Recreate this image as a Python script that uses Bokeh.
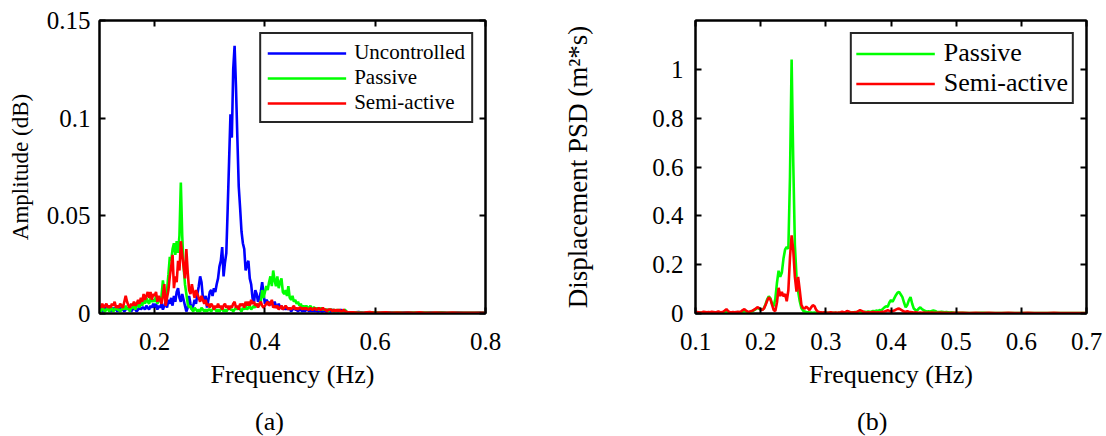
import numpy as np
from bokeh.plotting import figure
from bokeh.layouts import row, column
from bokeh.models import (FixedTicker, LinearAxis, Legend, LegendItem, Range1d, Div,
                          CustomLabelingPolicy)
from bokeh.embed import file_html
from bokeh.resources import INLINE

SERIF = "Liberation Serif"
BLUE, GREEN, RED = "#0000FF", "#00FF00", "#FF0000"

# ---------------------------------------------------------------------------
# Panel (a): amplitude spectra, dense samples 0.10-0.55 Hz (step 0.0025 Hz),
# followed by a sparse tail 0.56-0.80 Hz (step 0.01 Hz)
# ---------------------------------------------------------------------------
A_DENSE_START, A_DENSE_STEP = 0.10, 0.0025
A_TAIL_START, A_TAIL_STEP = 0.56, 0.01

a_uncontrolled = [
    0.002, 0.003, 0.001, 0.002,  0.003, 0.002, 0.004, 0.002,  0.001, 0.003, 0.002, 0.003,
    0.002, 0.001, 0.003, 0.002,  0.003, 0.002, 0.001, 0.002,  0.003, 0.002, 0.003, 0.001,
    0.002, 0.003, 0.002, 0.001,  0.002, 0.004, 0.002, 0.003,  0.003, 0.002, 0.004, 0.003,
    0.002, 0.004, 0.003, 0.005,  0.003, 0.005, 0.002, 0.004,  0.003, 0.005, 0.002, 0.004,
    0.006, 0.003, 0.007, 0.005,  0.008, 0.004, 0.009, 0.006,  0.011, 0.013, 0.008, 0.006,
    0.010, 0.007, 0.004, 0.001,  0.003, 0.009, 0.005, 0.002,  0.004, 0.007, 0.005, 0.010,
    0.014, 0.019, 0.016, 0.008,  0.006, 0.009, 0.003, 0.007,  0.011, 0.012, 0.009, 0.013,
    0.011, 0.015, 0.018, 0.024,  0.027, 0.034, 0.019, 0.026,  0.031, 0.054, 0.078, 0.102,
    0.090, 0.125, 0.137, 0.116,  0.090, 0.065, 0.054, 0.042,  0.036, 0.033, 0.022, 0.025,
    0.027, 0.018, 0.015, 0.008,  0.005, 0.012, 0.010, 0.006,  0.008, 0.011, 0.016, 0.010,
    0.005, 0.007, 0.006, 0.004,  0.006, 0.005, 0.004, 0.006,  0.004, 0.003, 0.005, 0.003,
    0.004, 0.002, 0.003, 0.002,  0.003, 0.002, 0.003, 0.001,  0.002, 0.003, 0.002, 0.002,
    0.001, 0.002, 0.002, 0.001,  0.002, 0.001, 0.002, 0.002,  0.001, 0.002, 0.001, 0.002,
    0.001, 0.002, 0.001, 0.001,  0.002, 0.001, 0.001, 0.002,  0.001, 0.001, 0.002, 0.001,
    0.001, 0.002, 0.001, 0.001,  0.001, 0.001, 0.001, 0.002,  0.001, 0.001, 0.001, 0.001,
    0.0006,
]
a_passive = [
    0.002, 0.001, 0.003, 0.002,  0.001, 0.002, 0.003, 0.001,  0.002, 0.003, 0.001, 0.002,
    0.003, 0.002, 0.002, 0.001,  0.002, 0.003, 0.002, 0.004,  0.002, 0.003, 0.001, 0.003,
    0.003, 0.004, 0.002, 0.004,  0.005, 0.003, 0.006, 0.004,  0.007, 0.005, 0.008, 0.006,
    0.005, 0.008, 0.006, 0.007,  0.006, 0.009, 0.005, 0.007,  0.006, 0.009, 0.017, 0.011,
    0.006, 0.012, 0.020, 0.029,  0.027, 0.033, 0.036, 0.030,  0.037, 0.031, 0.040, 0.067,
    0.040, 0.024, 0.015, 0.010,  0.005, 0.003, 0.004, 0.002,  0.001, 0.003, 0.002, 0.001,
    0.002, 0.001, 0.003, 0.002,  0.001, 0.002, 0.001, 0.002,  0.002, 0.001, 0.002, 0.003,
    0.002, 0.001, 0.002, 0.001,  0.002, 0.003, 0.001, 0.002,  0.001, 0.002, 0.003, 0.002,
    0.002, 0.001, 0.002, 0.003,  0.002, 0.003, 0.002, 0.001,  0.003, 0.002, 0.004, 0.002,
    0.003, 0.004, 0.002, 0.003,  0.004, 0.003, 0.005, 0.004,  0.004, 0.006, 0.012, 0.008,
    0.011, 0.014, 0.012, 0.016,  0.019, 0.014, 0.022, 0.017,  0.014, 0.019, 0.013, 0.016,
    0.018, 0.011, 0.010, 0.012,  0.009, 0.014, 0.008, 0.007,  0.009, 0.006, 0.007, 0.005,
    0.006, 0.004, 0.005, 0.003,  0.004, 0.003, 0.004, 0.003,  0.003, 0.004, 0.002, 0.003,
    0.003, 0.002, 0.003, 0.002,  0.002, 0.003, 0.002, 0.002,  0.002, 0.002, 0.001, 0.002,
    0.002, 0.001, 0.002, 0.001,  0.001, 0.002, 0.001, 0.001,  0.001, 0.001, 0.002, 0.001,
    0.0006,
]
a_semiactive = [
    0.004, 0.003, 0.005, 0.003,  0.004, 0.005, 0.003, 0.004,  0.003, 0.005, 0.004, 0.006,
    0.003, 0.004, 0.003, 0.005,  0.004, 0.003, 0.006, 0.009,  0.006, 0.004, 0.003, 0.005,
    0.004, 0.006, 0.004, 0.005,  0.007, 0.005, 0.008, 0.006,  0.010, 0.007, 0.009, 0.011,
    0.008, 0.011, 0.007, 0.010,  0.009, 0.011, 0.006, 0.009,  0.007, 0.005, 0.009, 0.015,
    0.004, 0.008, 0.012, 0.019,  0.024, 0.030, 0.013, 0.019,  0.016, 0.027, 0.022, 0.037,
    0.030, 0.024, 0.018, 0.033,  0.021, 0.012, 0.010, 0.015,  0.011, 0.008, 0.012, 0.010,
    0.008, 0.006, 0.009, 0.007,  0.005, 0.007, 0.004, 0.005,  0.003, 0.005, 0.004, 0.002,
    0.004, 0.003, 0.005, 0.003,  0.004, 0.002, 0.004, 0.005,  0.003, 0.004, 0.002, 0.004,
    0.003, 0.005, 0.006, 0.003,  0.004, 0.002, 0.005, 0.004,  0.005, 0.003, 0.006, 0.004,
    0.006, 0.004, 0.007, 0.005,  0.006, 0.004, 0.005, 0.003,  0.005, 0.006, 0.004, 0.003,
    0.004, 0.005, 0.006, 0.004,  0.005, 0.007, 0.003, 0.004,  0.003, 0.004, 0.002, 0.003,
    0.004, 0.002, 0.003, 0.004,  0.003, 0.002, 0.003, 0.002,  0.003, 0.004, 0.002, 0.003,
    0.002, 0.003, 0.003, 0.002,  0.003, 0.002, 0.003, 0.002,  0.002, 0.003, 0.002, 0.002,
    0.003, 0.002, 0.002, 0.003,  0.002, 0.002, 0.003, 0.002,  0.002, 0.001, 0.002, 0.002,
    0.002, 0.001, 0.002, 0.001,  0.002, 0.001, 0.002, 0.001,  0.001, 0.002, 0.001, 0.001,
    0.0006,
]
a_uncontrolled_tail = [0.0005, 0.0007, 0.0004, 0.0006, 0.0005, 0.0004, 0.0006, 0.0005,
                       0.0004, 0.0005, 0.0006, 0.0004, 0.0005, 0.0003, 0.0005, 0.0004,
                       0.0006, 0.0004, 0.0003, 0.0005, 0.0004, 0.0003, 0.0004, 0.0005, 0.0003]
a_passive_tail = [0.0006, 0.0005, 0.0004, 0.0005, 0.0006, 0.0004, 0.0005, 0.0004,
                  0.0005, 0.0004, 0.0003, 0.0005, 0.0004, 0.0005, 0.0003, 0.0004,
                  0.0005, 0.0003, 0.0004, 0.0004, 0.0003, 0.0004, 0.0003, 0.0004, 0.0003]
a_semiactive_tail = [0.0006, 0.0004, 0.0005, 0.0007, 0.0004, 0.0005, 0.0006, 0.0004,
                     0.0005, 0.0003, 0.0005, 0.0004, 0.0006, 0.0004, 0.0003, 0.0005,
                     0.0004, 0.0003, 0.0005, 0.0004, 0.0003, 0.0004, 0.0003, 0.0004, 0.0003]

A_X_TICKS = [0.2, 0.4, 0.6, 0.8]
A_Y_TICKS = [0, 0.05, 0.1, 0.15]
A_Y_TICK_LABELS = ["0", "0.05", "0.1", "0.15"]

# ---------------------------------------------------------------------------
# Panel (b): displacement PSD, dense samples 0.10-0.50 Hz (step 0.0025 Hz),
# followed by a sparse tail 0.51-0.70 Hz (step 0.01 Hz)
# ---------------------------------------------------------------------------
B_DENSE_START, B_DENSE_STEP = 0.10, 0.0025
B_TAIL_START, B_TAIL_STEP = 0.51, 0.01

b_passive = [
    0.003, 0.004, 0.003, 0.004,  0.004, 0.005, 0.004, 0.003,  0.004, 0.003, 0.005, 0.004,
    0.003, 0.004, 0.005, 0.004,  0.003, 0.004, 0.006, 0.008,  0.006, 0.004, 0.003, 0.004,
    0.003, 0.004, 0.005, 0.004,  0.005, 0.008, 0.010, 0.008,  0.006, 0.005, 0.007, 0.010,
    0.014, 0.018, 0.022, 0.020,  0.016, 0.015, 0.022, 0.038,  0.058, 0.070, 0.062, 0.040,
    0.030, 0.060, 0.125, 0.175,  0.150, 0.168, 0.225, 0.262,  0.272, 0.265, 0.560, 1.040,
    0.620, 0.280, 0.150, 0.090,  0.050, 0.022, 0.012, 0.008,  0.006, 0.005, 0.004, 0.004,
    0.003, 0.004, 0.003, 0.003,  0.002, 0.003, 0.002, 0.003,  0.002, 0.003, 0.002, 0.003,
    0.002, 0.003, 0.003, 0.002,  0.003, 0.002, 0.003, 0.002,  0.003, 0.004, 0.003, 0.004,
    0.005, 0.004, 0.006, 0.005,  0.007, 0.006, 0.008, 0.006,  0.007, 0.006, 0.008, 0.007,
    0.008, 0.010, 0.009, 0.012,  0.010, 0.014, 0.012, 0.019,  0.025, 0.030, 0.028, 0.045,
    0.055, 0.048, 0.062, 0.075,  0.085, 0.088, 0.078, 0.067,  0.045, 0.025, 0.035, 0.055,
    0.067, 0.040, 0.020, 0.015,  0.012, 0.020, 0.025, 0.018,  0.014, 0.010, 0.008, 0.009,
    0.008, 0.010, 0.012, 0.010,  0.007, 0.006, 0.006, 0.007,  0.006, 0.005, 0.006, 0.005,
    0.004, 0.005, 0.004, 0.003,
    0.003,
]
b_semiactive = [
    0.004, 0.006, 0.005, 0.004,  0.005, 0.007, 0.006, 0.005,  0.006, 0.005, 0.007, 0.006,
    0.005, 0.006, 0.008, 0.006,  0.005, 0.007, 0.012, 0.018,  0.010, 0.006, 0.005, 0.006,
    0.005, 0.006, 0.007, 0.006,  0.008, 0.014, 0.018, 0.012,  0.008, 0.007, 0.009, 0.012,
    0.016, 0.020, 0.026, 0.022,  0.018, 0.014, 0.020, 0.035,  0.052, 0.066, 0.058, 0.035,
    0.014, 0.010, 0.045, 0.105,  0.072, 0.088, 0.070, 0.080,  0.050, 0.095, 0.230, 0.320,
    0.260, 0.150, 0.090, 0.150,  0.095, 0.035, 0.022, 0.020,  0.028, 0.022, 0.014, 0.025,
    0.034, 0.030, 0.016, 0.008,  0.006, 0.005, 0.004, 0.005,  0.004, 0.003, 0.004, 0.005,
    0.004, 0.003, 0.004, 0.003,  0.004, 0.005, 0.007, 0.005,  0.006, 0.010, 0.008, 0.005,
    0.004, 0.005, 0.004, 0.006,  0.010, 0.014, 0.011, 0.007,  0.005, 0.004, 0.005, 0.004,
    0.005, 0.006, 0.005, 0.004,  0.005, 0.004, 0.006, 0.007,  0.008, 0.010, 0.014, 0.011,
    0.008, 0.010, 0.012, 0.016,  0.019, 0.020, 0.016, 0.012,  0.008, 0.006, 0.009, 0.007,
    0.006, 0.005, 0.004, 0.005,  0.004, 0.003, 0.004, 0.003,  0.004, 0.003, 0.003, 0.004,
    0.003, 0.004, 0.003, 0.003,  0.003, 0.003, 0.004, 0.003,  0.003, 0.003, 0.003, 0.002,
    0.003, 0.002, 0.003, 0.003,
    0.003,
]
b_passive_tail = [0.003, 0.002, 0.002, 0.003, 0.002, 0.002, 0.002, 0.002, 0.002, 0.002,
                  0.002, 0.002, 0.002, 0.002, 0.002, 0.002, 0.002, 0.002, 0.002, 0.002]
b_semiactive_tail = [0.003, 0.002, 0.003, 0.002, 0.003, 0.002, 0.002, 0.003, 0.002, 0.002,
                     0.003, 0.002, 0.002, 0.002, 0.003, 0.002, 0.002, 0.002, 0.002, 0.002]

B_X_TICKS = [0.1, 0.2, 0.3, 0.4, 0.5, 0.6, 0.7]
B_Y_TICKS = [0, 0.2, 0.4, 0.6, 0.8, 1]
B_Y_TICK_LABELS = ["0", "0.2", "0.4", "0.6", "0.8", "1"]

TICK_FONT = "25px"
PLOT_H = 400          # height of each chart; the caption strip sits below
CAPTION_H = 36


def sampled(dense, tail, d_start, d_step, t_start, t_step):
    """Frequency axis for a spectrum stored as a dense block plus a sparse tail."""
    f = np.concatenate([d_start + d_step * np.arange(len(dense)),
                        t_start + t_step * np.arange(len(tail))])
    return f, np.array(list(dense) + list(tail))


def style_axis(ax, ticks, font_size, label_size, labels=None):
    ax.ticker = FixedTicker(ticks=ticks)
    ax.axis_line_color = "black"
    ax.axis_line_width = 2
    ax.major_tick_line_color = "black"
    ax.major_tick_line_width = 2
    ax.major_tick_in = 6
    ax.major_tick_out = 0
    ax.minor_tick_line_color = None
    ax.major_label_text_font = SERIF
    ax.major_label_text_font_size = font_size
    ax.major_label_text_color = "black"
    ax.axis_label_text_font = SERIF
    ax.axis_label_text_font_size = label_size
    ax.axis_label_text_font_style = "normal"
    ax.axis_label_text_color = "black"
    if labels is not None:
        ax.major_label_overrides = {t: s for t, s in zip(ticks, labels)}


# box-style tick marks on the top and right edges, without any labels
HIDE_LABELS = CustomLabelingPolicy(code="""
    for (const i of indices)
        indices.unset(i)
    return indices
""")


def add_mirror_axes(p, xticks, yticks):
    for side, ticks in (("above", xticks), ("right", yticks)):
        ax = LinearAxis(ticker=FixedTicker(ticks=ticks))
        ax.axis_line_color = "black"
        ax.axis_line_width = 2
        ax.major_tick_line_color = "black"
        ax.major_tick_line_width = 2
        ax.major_tick_in = 6
        ax.major_tick_out = 0
        ax.minor_tick_line_color = None
        ax.major_label_text_font_size = "1px"
        ax.major_label_standoff = 0
        ax.major_label_policy = HIDE_LABELS
        p.add_layout(ax, side)


def make_panel(x_end, y_end, width, border_left, border_right):
    p = figure(width=width, height=PLOT_H,
               x_range=Range1d(0.1, x_end), y_range=Range1d(0, y_end),
               output_backend="svg", toolbar_location=None,
               min_border_left=border_left, min_border_right=border_right,
               min_border_top=20, min_border_bottom=PLOT_H - 313)
    p.grid.visible = False
    p.outline_line_color = "black"
    p.outline_line_width = 2
    p.background_fill_color = "white"
    p.border_fill_color = "white"
    return p


def add_legend(p, items, font_size, row_h, standoff, pad):
    legend = Legend(items=items, location="top_right",
                    label_text_font=SERIF, label_text_font_size=font_size,
                    label_text_color="black",
                    glyph_width=79, glyph_height=row_h, label_height=row_h,
                    label_standoff=standoff, padding=pad, spacing=0, margin=12,
                    border_line_color="#262626", border_line_width=2,
                    border_line_alpha=1.0,
                    background_fill_color="white", background_fill_alpha=1.0)
    p.add_layout(legend)


def caption(text, width, left_pad):
    html = ('<div style="font-family: \'%s\'; font-size: 26px; line-height: 30px; '
            'color: black; padding-top: 7px; padding-left: %dpx; white-space: nowrap;">%s</div>'
            % (SERIF, left_pad, text))
    return Div(text=html, width=width, height=CAPTION_H, margin=0)


# ----------------------------- panel (a) -----------------------------------
pa = make_panel(0.8, 0.15, width=553, border_left=99, border_right=68)
fa_u, va_u = sampled(a_uncontrolled, a_uncontrolled_tail, A_DENSE_START, A_DENSE_STEP, A_TAIL_START, A_TAIL_STEP)
fa_p, va_p = sampled(a_passive, a_passive_tail, A_DENSE_START, A_DENSE_STEP, A_TAIL_START, A_TAIL_STEP)
fa_s, va_s = sampled(a_semiactive, a_semiactive_tail, A_DENSE_START, A_DENSE_STEP, A_TAIL_START, A_TAIL_STEP)
ra_u = pa.line(fa_u, va_u, line_color=BLUE, line_width=2.6)
ra_p = pa.line(fa_p, va_p, line_color=GREEN, line_width=2.6)
ra_s = pa.line(fa_s, va_s, line_color=RED, line_width=2.6)

style_axis(pa.xaxis[0], A_X_TICKS, TICK_FONT, "26px")
style_axis(pa.yaxis[0], A_Y_TICKS, TICK_FONT, "23px", A_Y_TICK_LABELS)
pa.xaxis[0].axis_label = "Frequency (Hz)"
pa.yaxis[0].axis_label = "Amplitude (dB)"
pa.xaxis[0].major_label_standoff = 19
pa.xaxis[0].axis_label_standoff = 7
pa.yaxis[0].major_label_standoff = 9
pa.yaxis[0].axis_label_standoff = 11
add_mirror_axes(pa, A_X_TICKS, A_Y_TICKS)
add_legend(pa, [LegendItem(label="Uncontrolled", renderers=[ra_u]),
                LegendItem(label="Passive", renderers=[ra_p]),
                LegendItem(label="Semi-active", renderers=[ra_s])],
           "21px", 22, 8, 6)

# ----------------------------- panel (b) -----------------------------------
pb = make_panel(0.7, 1.2, width=553, border_left=142, border_right=20)
fb_p, vb_p = sampled(b_passive, b_passive_tail, B_DENSE_START, B_DENSE_STEP, B_TAIL_START, B_TAIL_STEP)
fb_s, vb_s = sampled(b_semiactive, b_semiactive_tail, B_DENSE_START, B_DENSE_STEP, B_TAIL_START, B_TAIL_STEP)
rb_p = pb.line(fb_p, vb_p, line_color=GREEN, line_width=2.6)
rb_s = pb.line(fb_s, vb_s, line_color=RED, line_width=2.6)

style_axis(pb.xaxis[0], B_X_TICKS, TICK_FONT, "26px")
style_axis(pb.yaxis[0], B_Y_TICKS, TICK_FONT, "27px", B_Y_TICK_LABELS)
pb.xaxis[0].axis_label = "Frequency (Hz)"
pb.yaxis[0].axis_label = "Displacement PSD (m\u00b2*s)"
pb.xaxis[0].major_label_standoff = 19
pb.xaxis[0].axis_label_standoff = 7
pb.yaxis[0].major_label_standoff = 12
pb.yaxis[0].axis_label_standoff = 56
add_mirror_axes(pb, B_X_TICKS, B_Y_TICKS)
add_legend(pb, [LegendItem(label="Passive", renderers=[rb_p]),
                LegendItem(label="Semi-active", renderers=[rb_s])],
           "26px", 27, 9, 4)

# sub-figure captions under each chart
captions = row(caption("(a)", 553, 255), caption("(b)", 553, 304))

layout = column(row(pa, pb), captions)
open("out.html", "w").write(file_html(layout, INLINE))
